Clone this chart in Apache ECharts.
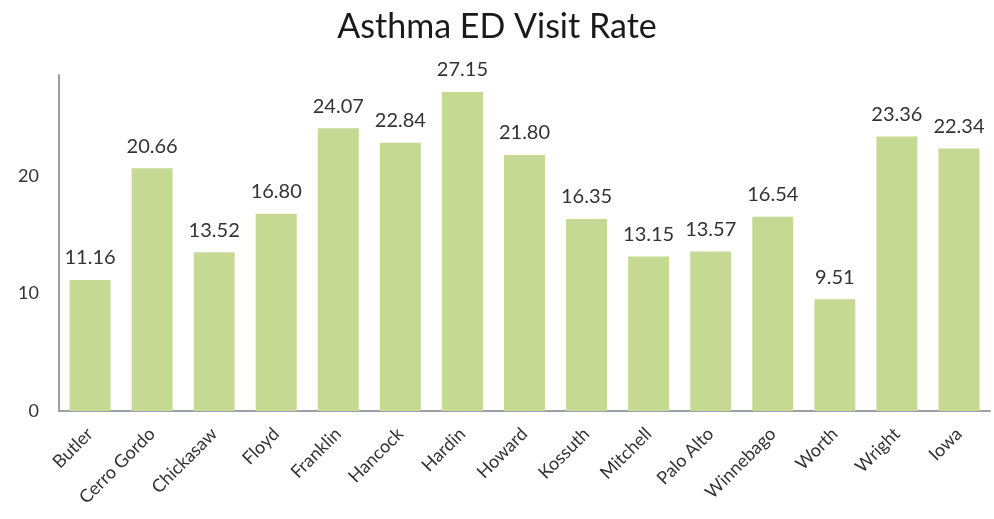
<!DOCTYPE html>
<html>
<head>
<meta charset="utf-8">
<script src="https://cdn.jsdelivr.net/npm/echarts@6/dist/echarts.min.js"></script>
<style>
  html, body { margin: 0; padding: 0; background: #fff; }
  #chart { width: 994px; height: 519px; }
</style>
</head>
<body>
<div id="chart"></div>
<script>
const counties = ['Butler', 'Cerro Gordo', 'Chickasaw', 'Floyd', 'Franklin', 'Hancock', 'Hardin', 'Howard', 'Kossuth', 'Mitchell', 'Palo Alto', 'Winnebago', 'Worth', 'Wright', 'Iowa']
const visitRate = [11.16, 20.66, 13.52, 16.80, 24.07, 22.84, 27.15, 21.80, 16.35, 13.15, 13.57, 16.54, 9.51, 23.36, 22.34]

const chart = echarts.init(document.getElementById('chart'))
chart.setOption({
    animation: false,
    title: {
        text: 'Asthma ED Visit Rate',
        left: 'center',
        top: 5,
        textStyle: {
            fontFamily: 'Lato',
            fontWeight: 'normal',
            fontSize: 34,
            color: '#1a1a1a'
        }
    },
    grid: {
        left: 59,
        right: 4,
        top: 75,
        bottom: 108
    },
    xAxis: {
        type: 'category',
        data: counties,
        axisLine: { lineStyle: { color: '#9aa0a6', width: 2 } },
        axisTick: { show: false },
        axisLabel: {
            rotate: 45,
            interval: 0,
            margin: 20,
            fontFamily: 'Lato',
            fontSize: 18,
            color: '#333'
        }
    },
    yAxis: {
        type: 'value',
        min: 0,
        max: 28.6,
        interval: 10,
        axisLine: { show: true, lineStyle: { color: '#9aa0a6', width: 2 } },
        axisTick: { show: false },
        splitLine: { show: false },
        axisLabel: {
            showMaxLabel: false,
            margin: 20,
            fontFamily: 'Lato',
            fontSize: 18,
            color: '#333'
        }
    },
    series: [{
        type: 'bar',
        data: visitRate,
        barCategoryGap: '34%',
        itemStyle: { color: '#c5d993' },
        label: {
            show: true,
            position: 'top',
            distance: 12,
            formatter: p => p.value.toFixed(2),
            fontFamily: 'Lato',
            fontSize: 20,
            color: '#333'
        }
    }]
})
</script>
</body>
</html>
